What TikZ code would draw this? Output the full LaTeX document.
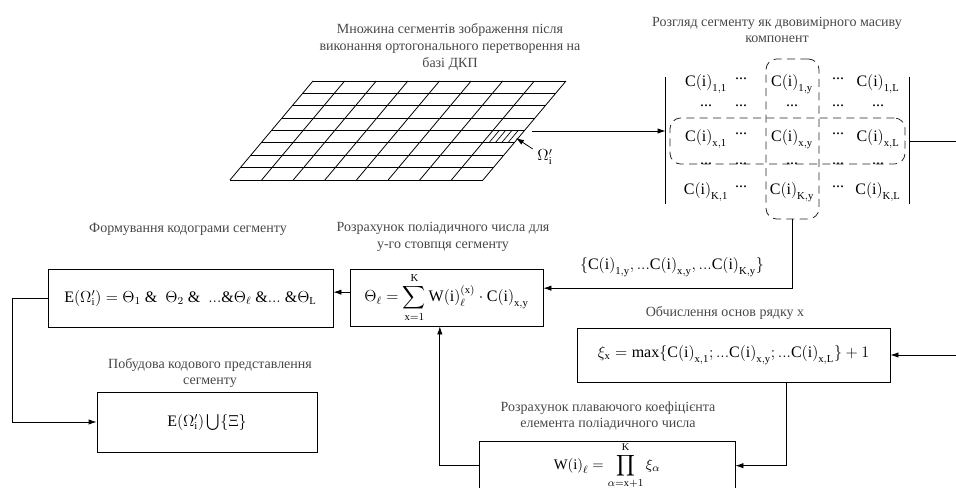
\documentclass[tikz,border=0pt]{standalone}
\usepackage{amsmath,amssymb}
\usepackage{fontspec}
\setmainfont{Liberation Serif}
\usepackage{tikz}
\usetikzlibrary{arrows.meta,positioning}
\newcommand{\pxu}{0.75pt}

\tikzset{
  >={Latex[length=6pt,width=4pt]},
  procbox/.style={draw, line width=0.6pt, inner sep=2pt,
              font=\fontsize{12}{14}\selectfont},
  captxt/.style={align=center, text=black!72,
              font=\fontsize{10.5}{12.6}\selectfont},
  matentry/.style={inner sep=1pt, font=\fontsize{12}{14}\selectfont},
  dashbox/.style={draw=black!85, dash pattern=on 6pt off 4pt, rounded corners=8pt,
                  line width=0.6pt}
}

\begin{document}
\begin{tikzpicture}[x=0.75pt, y=-0.75pt, line width=0.6pt]
  \useasboundingbox (0,0) rectangle (956,488);

  % Grid of segments
  \foreach \i in {0,...,8}
    \draw (230+\i*10.375,180-\i*12.375) -- ++(253,0);
  \foreach \j in {0,...,7,8}
    \draw (230+\j*31.625,180) -- (313+\j*31.625,81);
  % hatched segment
  \foreach \f in {0.2,0.4,0.6,0.8}
    \draw[line width=0.5pt] (482.5+\f*31.6,142.9) -- (492.9+\f*31.6,130.5);
  \coordinate (cellTip) at (516,138);
  \coordinate (gridOut) at (532,131);
  \node (omegaLbl) at (545,157) {\fontsize{12}{14}\selectfont$\Omega'_{\mathrm i}$};
  \draw[->] (omegaLbl) -- (cellTip);
  \node[captxt] (gridCap) at (450,47)
    {Множина сегментів зображення після\\виконання ортогонального перетворення на\\базі ДКП};

  % Matrix of components
  \node[minimum width=243*\pxu, minimum height=127*\pxu, inner sep=0pt] (mat) at (787.5,140.5) {};
  \draw (mat.north west) -- (mat.south west);
  \draw (mat.north east) -- (mat.south east);
  \node[captxt] (matCap) at (777,30) {Розгляд сегменту як двовимірного масиву\\компонент};

  \foreach \r/\ry/\s in {a/84/1, x/139/x, k/192/K} {
    \node[matentry] (c\r1) at (706,\ry) {$\mathrm{C(i)}_{\mathrm{\s,1}}$};
    \node[matentry] (c\r y) at (792,\ry) {$\mathrm{C(i)}_{\mathrm{\s,y}}$};
    \node[matentry] (c\r L) at (878,\ry) {$\mathrm{C(i)}_{\mathrm{\s,L}}$};
    \node[matentry] (p\r1) at (741,\ry-5) {...};
    \node[matentry] (p\r2) at (838,\ry-5) {...};
  }
  \foreach \cx [count=\n] in {706,741,792,838,878} {
    \node[matentry] (da\n) at (\cx,106) {...};
    \node[matentry] (db\n) at (\cx,164) {...};
  }
  \node[dashbox, minimum width=53*\pxu, minimum height=160*\pxu] (colBox) at (792.5,139) {};
  \node[dashbox, minimum width=235*\pxu, minimum height=46*\pxu] (rowBox) at (787.5,141) {};

  \draw[->] (gridOut) -- (gridOut -| mat.west);
  \coordinate (outR) at (970,141);
  \draw (rowBox.east -| mat.east) -- (outR);

  % Processing boxes
  \node[procbox, minimum width=285*\pxu, minimum height=58*\pxu] (kodBox) at (190.5,298)
    {$\mathrm{E}(\Omega'_{\mathrm i}) = \Theta_1\ \&\ \ \Theta_2\ \&\ \ \mathrm{...}\&\Theta_\ell\ \&\mathrm{...}\ \&\Theta_{\mathrm L}$};
  \node[captxt] (kodCap) at (188,229) {Формування кодограми сегменту};

  \node[procbox, minimum width=193*\pxu, minimum height=57*\pxu] (polyBox) at (446.5,297.5)
    {$\Theta_\ell = \displaystyle\sum_{\mathrm{x}=1}^{\mathrm K}\mathrm{W(i)}_\ell^{(\mathrm x)}\cdot\mathrm{C(i)}_{\mathrm{x,y}}$};
  \node[captxt] (polyCap) at (443,237) {Розрахунок поліадичного числа для\\у-го стовпця сегменту};

  \node[procbox, minimum width=313*\pxu, minimum height=54*\pxu] (osnBox) at (733.5,355)
    {$\xi_{\mathrm x} = \max\{\mathrm{C(i)}_{\mathrm{x,1}};\mathrm{...}\mathrm{C(i)}_{\mathrm{x,y}};\mathrm{...}\mathrm{C(i)}_{\mathrm{x,L}}\}+1$};
  \node[captxt] (osnCap) at (725,313) {Обчислення основ рядку x};

  \node[procbox, minimum width=220*\pxu, minimum height=60*\pxu] (unionBox) at (207,422)
    {$\mathrm{E}(\Omega'_{\mathrm i})\bigcup\{\Xi\}$};
  \node[captxt] (unionCap) at (210,373) {Побудова кодового представлення\\сегменту};

  \node[procbox, minimum width=256*\pxu, minimum height=52*\pxu] (coefBox) at (607,467) {};
  \node[procbox, draw=none, inner sep=0pt, font=\fontsize{11}{13}\selectfont] (coefTxt) at (607,466)
    {$\mathrm{W(i)}_\ell = \displaystyle\prod_{\alpha=\mathrm{x}+1}^{\mathrm K}\xi_\alpha$};
  \node[captxt] (coefCap) at (608,416) {Розрахунок плаваючого коефіцієнта\\елемента поліадичного числа};

  % Connectors
  \node[matentry] (colLbl) at (672,267)
    {$\{\mathrm{C(i)}_{\mathrm{1,y}},\mathrm{...}\mathrm{C(i)}_{\mathrm{x,y}},\mathrm{...}\mathrm{C(i)}_{\mathrm{K,y}}\}$};
  \draw[->] (colBox.south) |- ([yshift=7pt]polyBox.east);
  \draw[->] ([yshift=4pt]polyBox.west) -- ([yshift=4pt]polyBox.west -| kodBox.east);
  \draw[->] (kodBox.west) -- ++(-35,0) |- (unionBox.west);
  \coordinate (inR) at (970,355);
  \draw[->] (inR) -- (osnBox.east);
  \draw[->] ([xshift=40pt]osnBox.south) |- ([yshift=1pt]coefBox.east);
  \draw[->] ([yshift=1pt]coefBox.west) -| ([xshift=-5pt]polyBox.south);
\end{tikzpicture}
\end{document}
